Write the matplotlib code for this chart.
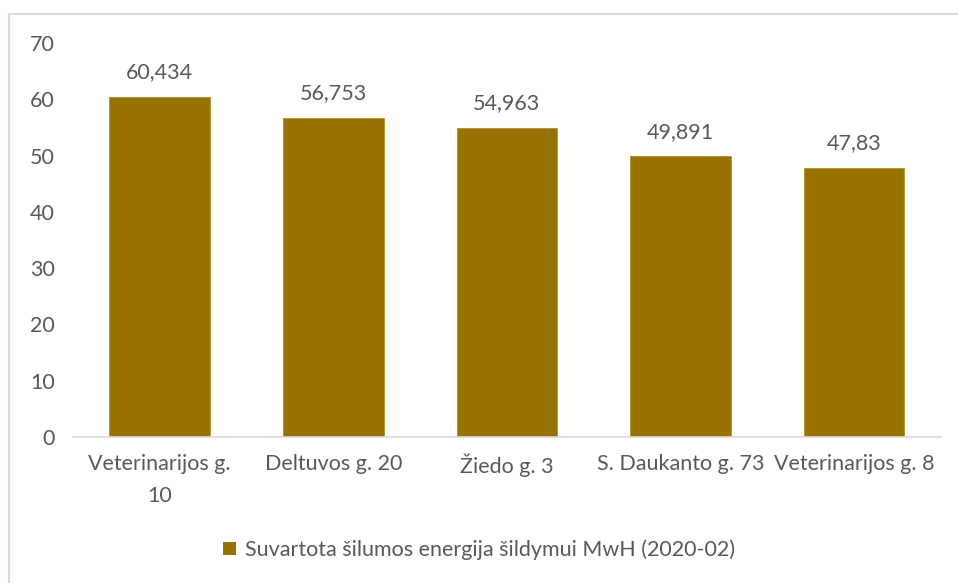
import matplotlib.pyplot as plt
from matplotlib.lines import Line2D
from matplotlib.patches import Patch

# chart data
categories = ["Veterinarijos g.\n10", "Deltuvos g. 20", "Žiedo g. 3", "S. Daukanto g. 73", "Veterinarijos g. 8"]
values = [60.434, 56.753, 54.963, 49.891, 47.83]
value_labels = ["60,434", "56,753", "54,963", "49,891", "47,83"]
series_name = "Suvartota šilumos energija šildymui MwH (2020-02)"
yticks = [0, 10, 20, 30, 40, 50, 60, 70]

bar_color = "#997300"
text_color = "#595959"
plt.rcParams['font.family'] = ['Lato', 'DejaVu Sans']

fig = plt.figure(figsize=(9.58, 5.83), dpi=100)
ax = fig.add_axes([0.0762, 0.2504, 0.9058, 0.6758])

x = range(len(categories))
bars = ax.bar(x, values, width=0.58, color=bar_color, edgecolor="#b8901a", linewidth=0.6)

for xi, v, lab in zip(x, values, value_labels):
    ax.annotate(lab, (xi, v), xytext=(0, 10.5), textcoords="offset points",
                ha="center", va="bottom", fontsize=15.5, color=text_color)

ax.set_xlim(-0.5, len(categories) - 0.5)
ax.set_ylim(0, 70)
ax.set_yticks(yticks)
ax.set_xticks(list(x))
ax.set_xticklabels(categories, fontsize=15.5, color=text_color, linespacing=1.75)
ax.tick_params(axis="y", labelsize=15.5, labelcolor=text_color, length=0, pad=13)
ax.tick_params(axis="x", length=0, pad=12)

for s in ["top", "right", "left"]:
    ax.spines[s].set_visible(False)
ax.spines["bottom"].set_color("#D9D9D9")
ax.spines["bottom"].set_linewidth(1.2)

# legend
fig.legend(handles=[Patch(facecolor=bar_color, label=series_name)], loc="center",
           bbox_to_anchor=(0.5, 0.057), frameon=False, fontsize=15.5,
           labelcolor=text_color, handlelength=0.6, handleheight=0.6, handletextpad=0.4)

# chart border
fig.add_artist(Line2D([9 / 958, 9 / 958], [0, 1 - 13.5 / 583], color="#D9D9D9", lw=1.5))
fig.add_artist(Line2D([9 / 958, 1], [1 - 13.5 / 583, 1 - 13.5 / 583], color="#D9D9D9", lw=1.5))

fig.savefig("out.png", dpi=100)
